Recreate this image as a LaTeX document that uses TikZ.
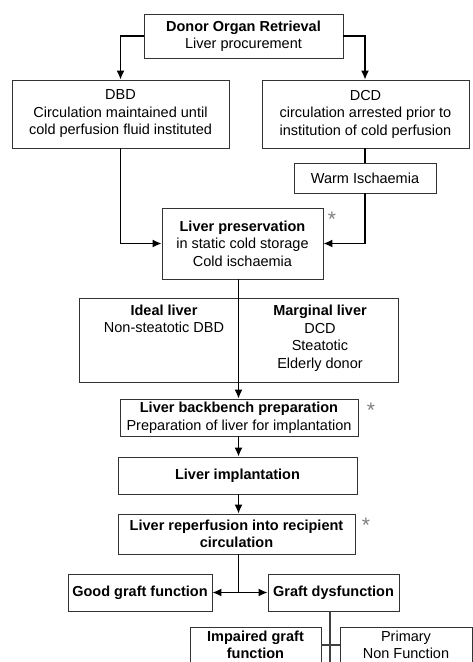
\documentclass[tikz,border=0pt]{standalone}
\usepackage{fontspec}
\setmainfont{Liberation Sans}
\usetikzlibrary{arrows.meta}
\begin{document}
\begin{tikzpicture}[x=1pt,y=-1pt,
  box/.style={draw=black!80, line width=0.9pt, rectangle, inner sep=0pt, align=center,
    font=\fontsize{14.5}{17.5}\selectfont},
  txt/.style={inner sep=0pt, align=center, font=\fontsize{14.5}{17.5}\selectfont},
  arr/.style={line width=1.4pt, -{Latex[length=9pt,width=8pt]}},
  ln/.style={line width=1.4pt},
  thinln/.style={line width=1.1pt, draw=black!75},
  starmark/.style={text=black!50, inner sep=0pt, font=\fontsize{21}{21}\selectfont}]
\useasboundingbox (0,0) rectangle (473,662);
\clip (0,0) rectangle (473,662);
\fill[white] (0,0) rectangle (473,662);

% boxes
\node[box, minimum width=199pt, minimum height=44pt] (donor) at (243.5,36)
  {\textbf{Donor Organ Retrieval}\\Liver procurement};
\node[box, minimum width=217pt, minimum height=68pt] (dbd) at (120.5,114)
  {DBD\\Circulation maintained until\\cold perfusion fluid instituted};
\node[box, minimum width=207pt, minimum height=68pt] (dcd) at (365.5,114)
  {DCD\\circulation arrested prior to\\institution of cold perfusion};
\node[box, minimum width=142pt, minimum height=30pt] (warm) at (365,178)
  {Warm Ischaemia};
\node[box, minimum width=161pt, minimum height=71pt] (pres) at (242.5,243.5)
  {\textbf{Liver preservation}\\in static cold storage\\Cold ischaemia};
\node[box, minimum width=319pt, minimum height=84pt] (im) at (238.5,340) {};
\node[txt] (ideal) at (164,319) {\textbf{Ideal liver}\\Non-steatotic DBD};
\node[txt] (marg) at (320,338) {\textbf{Marginal liver}\\DCD\\Steatotic\\Elderly donor};
\node[box, minimum width=238pt, minimum height=37pt] (bb) at (239,417.5)
  {\textbf{Liver backbench preparation}\\Preparation of liver for implantation};
\node[box, minimum width=239pt, minimum height=37pt] (impl) at (237.5,475.5)
  {\textbf{Liver implantation}};
\node[box, minimum width=237pt, minimum height=40pt] (rep) at (236.5,534)
  {\textbf{Liver reperfusion into recipient}\\\textbf{circulation}};
\node[box, minimum width=144pt, minimum height=37pt] (good) at (140,592.5)
  {\textbf{Good graft function}};
\node[box, minimum width=131pt, minimum height=37pt] (dysf) at (333.5,592.5)
  {\textbf{Graft dysfunction}};
\node[box, minimum width=131pt, minimum height=60pt] (imp) at (255.5,657) {};
\node[txt] (impt) at (255.5,645) {\textbf{Impaired graft}\\\textbf{function}};
\node[box, minimum width=132pt, minimum height=60pt] (prim) at (406,657) {};
\node[txt] (primt) at (406,645) {Primary\\Non Function};

% stars
\node[starmark] (s1) at (332,219) {*};
\node[starmark] (s2) at (371,410) {*};
\node[starmark] (s3) at (366,525) {*};

% connectors
\draw[arr] (donor.west) -| (dbd.north);
\draw[arr] (donor.east) -| (warm.north |- dcd.north);
\draw[ln] (warm.north |- dcd.south) -- (warm.north);
\draw[arr] (warm.south) |- (pres.east);
\draw[arr] (dbd.south) |- (pres.west);
\draw[arr] (im.north |- pres.south) -- (im.north |- bb.north);
\draw[arr] (im.north |- bb.south) -- (im.north |- impl.north);
\draw[arr] (im.north |- impl.south) -- (im.north |- rep.north);
\coordinate (j) at (im.north |- good.east);
\draw[ln] (im.north |- rep.south) -- (j);
\draw[arr] (j) -- (good.east);
\draw[arr] (j) -- (dysf.west);
\coordinate (dtop) at (330,611);
\coordinate (dbot) at (330,680);
\coordinate (k) at (330,645);
\draw[thinln] (dtop) -- (dbot);
\draw[thinln] (imp.east |- k) -- (prim.west |- k);
\end{tikzpicture}
\end{document}
